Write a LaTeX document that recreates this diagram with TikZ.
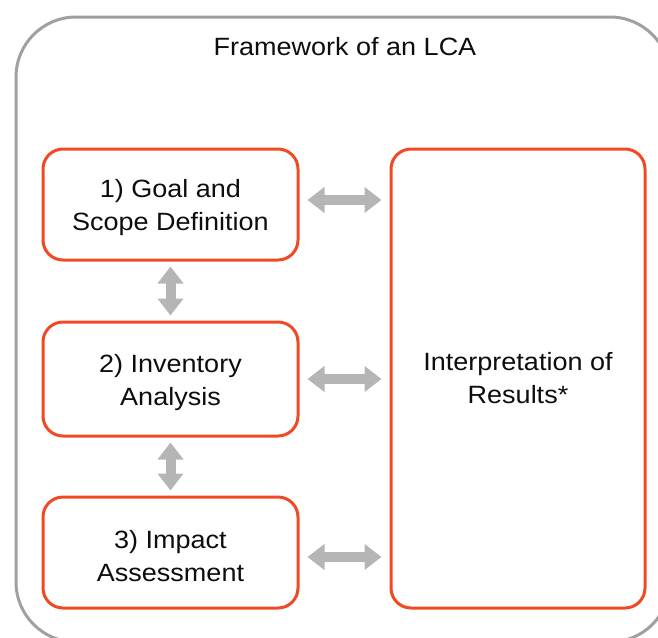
\documentclass[tikz,border=0pt]{standalone}
\usepackage{fontspec}
\setmainfont{Liberation Sans}[FakeStretch=1.08]
\usetikzlibrary{arrows.meta}
\definecolor{boxred}{HTML}{F04A24}
\definecolor{framegray}{HTML}{A0A0A0}
\definecolor{arrowgray}{HTML}{B5B5B5}
\newcommand{\lowr}{\rule{0pt}{24.5pt}}
\begin{document}
\begin{tikzpicture}[x=1pt,y=-1pt,
  txt/.style={font=\fontsize{25}{33}\selectfont, text=black!95, align=center},
  stagebox/.style={txt, draw=boxred, line width=3pt, rounded corners=20pt,
    minimum width=255pt, inner sep=0pt},
  outerframe/.style={draw=framegray, line width=3pt, rounded corners=60pt,
    minimum width=654pt, minimum height=625pt, inner sep=0pt},
  dblarrow/.style={draw=arrowgray, line width=10pt,
    {Triangle[width=25pt,length=17pt]}-{Triangle[width=25pt,length=17pt]}}]
\useasboundingbox (0,0) rectangle (658,637);
\clip (0,0) rectangle (658,637);
\node[outerframe] (frame) at (343,329.5) {};
\node[txt] (title) at (345,46.5) {Framework of an LCA};
\node[stagebox, minimum height=111pt] (b1) at (170.5,204.5) {\lowr1) Goal and\\Scope Definition};
\node[stagebox, minimum height=114pt] (b2) at (170.5,379) {\lowr2) Inventory\\Analysis};
\node[stagebox, minimum height=111pt] (b3) at (170.5,552.5) {\lowr3) Impact\\Assessment};
\node[stagebox, minimum width=254pt, minimum height=459pt] (interp) at (518,378.5) {Interpretation of\\Results*};
\draw[dblarrow, shorten <=8pt, shorten >=8pt] ([yshift=4.5pt]b1.east) -- ([yshift=4.5pt]b1.east -| interp.west);
\draw[dblarrow, shorten <=8pt, shorten >=8pt] (b2.east) -- (b2.east -| interp.west);
\draw[dblarrow, shorten <=8pt, shorten >=8pt] ([yshift=-4.5pt]b3.east) -- ([yshift=-4.5pt]b3.east -| interp.west);
\draw[dblarrow, shorten <=5pt, shorten >=5pt] (b1.south) -- (b2.north);
\draw[dblarrow, shorten <=5pt, shorten >=5pt] (b2.south) -- (b3.north);
\end{tikzpicture}
\end{document}
